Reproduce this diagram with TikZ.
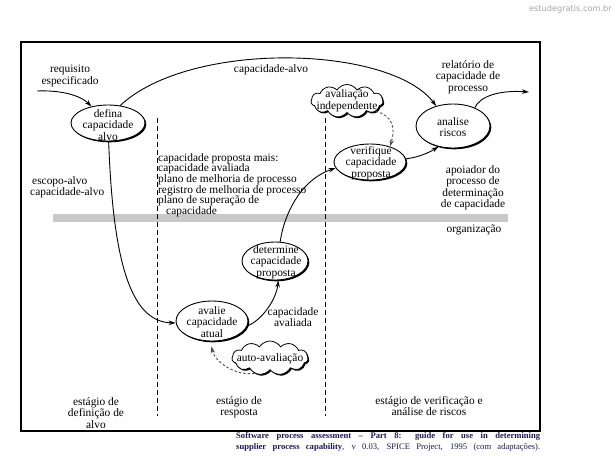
\documentclass[tikz,border=0pt]{standalone}
\usepackage{fontspec}
\setmainfont{Liberation Serif}
\newfontfamily\wmfont{DejaVu Sans}
\usetikzlibrary{shapes.geometric,shapes.symbols,shadows,arrows.meta}
\definecolor{capcol}{RGB}{25,25,85}
\definecolor{barcol}{RGB}{200,200,200}
\definecolor{wmcol}{RGB}{165,165,165}
\tikzset{
  shad/.style={drop shadow={opacity=1, shadow xshift=1.3pt, shadow yshift=-1.3pt, fill=black}},
  ellbox/.style={ellipse, draw, line width=0.9pt, fill=white, inner sep=0pt, shad},
  cldbox/.style={cloud, cloud puffs=11, cloud puff arc=115, cloud ignores aspect, draw, line width=0.8pt, fill=white, inner sep=0pt, shad},
  lbl/.style={font=\fontsize{11.4}{11.5}\selectfont, align=center, inner sep=0pt},
  arr/.style={line width=0.9pt, -{Stealth[length=7pt,width=4.5pt]}},
  darr/.style={arr, dash pattern=on 2.5pt off 2pt, draw=black!70},
  vdash/.style={line width=0.9pt, dash pattern=on 5pt off 3pt},
}
\begin{document}
\begin{tikzpicture}[x=1pt,y=-1pt]
\useasboundingbox (0,0) rectangle (615,456);
% watermark
\node[font=\wmfont\fontsize{8.2}{9}\selectfont, text=wmcol, anchor=east, inner sep=0pt] (wm) at (612,9) {estudegratis.com.br};
% frame
\draw[line width=1.1pt] (21,42) rectangle (540,431);
% gray bar
\fill[barcol] (53,214) rectangle (508,222);
% dashed stage separators
\draw[vdash] (157,118) -- (157,416);
\draw[vdash] (325,118) -- (325,416);

% shapes
\node[ellbox, minimum width=74pt, minimum height=36pt] (defina) at (108,123) {};
\node[ellbox, minimum width=72pt, minimum height=40pt] (avalie) at (212,321) {};
\node[ellbox, minimum width=66pt, minimum height=38pt] (determine) at (275,261) {};
\node[ellbox, minimum width=72pt, minimum height=36pt] (verifique) at (370,162) {};
\node[ellbox, minimum width=74pt, minimum height=44pt] (analise) at (453,126) {};
\node[cldbox, minimum width=72pt, minimum height=33pt] (indep) at (347,101) {};
\node[cldbox, minimum width=76pt, minimum height=34pt] (auto) at (270,358) {};

% texts in shapes
\node[lbl] (definat) at (108,125) {defina\\capacidade\\alvo};
\node[lbl] (avaliet) at (212,322) {avalie\\capacidade\\atual};
\node[lbl] (determinet) at (276,262) {determine\\capacidade\\proposta};
\node[lbl] (verifiquet) at (371,163) {verifique\\capacidade\\proposta};
\node[lbl] (analiset) at (453,127) {analise\\riscos};
\node[lbl] (indept) at (347,101) {avaliação\\independente};
\node[lbl] (autot) at (270,359) {auto-avaliação};

% free labels
\node[lbl] (req) at (70,76) {requisito\\especificado};
\node[lbl] (capalvo) at (271,70) {capacidade-alvo};
\node[lbl] (relat) at (468,77) {relatório de\\capacidade de\\processo};
\node[lbl] (apoiador) at (473,188) {apoiador do\\processo de\\determinação\\de capacidade};
\node[lbl] (org) at (474,230) {organização};
\node[lbl, align=left, anchor=west, font=\fontsize{11.4}{10.6}\selectfont] (lista) at (158,185) {capacidade proposta mais:\\capacidade avaliada\\plano de melhoria de processo\\registro de melhoria de processo\\plano de superação de\\\hspace*{8pt}capacidade};
\node[lbl, align=left, anchor=west, font=\fontsize{11.4}{10.2}\selectfont] (escopo) at (30,187) {\hspace*{2pt}escopo-alvo\\capacidade-alvo};
\node[lbl] (capaval) at (293,317) {capacidade\\avaliada};
\node[lbl] (st1) at (96,413) {estágio de\\definição de\\alvo};
\node[lbl] (st2) at (239,407) {estágio de\\resposta};
\node[lbl] (st3) at (429,406) {estágio de verificação e\\análise de riscos};

% caption
\node[anchor=north west, inner sep=0pt, text=capcol] (caption) at (236,432.5)
  {\parbox[t]{304pt}{\fontsize{8.6}{11}\selectfont\parfillskip=0pt\relax
   \textbf{Software process assessment – Part 8: guide for use in determining}\linebreak
   \textbf{supplier process capability}, v 0.03, SPICE Project, 1995 (com adaptações).}};

% free ends
\coordinate (reqs) at (37,91);
\coordinate (relend) at (529,92);

% connectors
\draw[arr] (reqs) .. controls (60,90) and (80,95) .. (defina.135);
\draw[arr] (defina.55) .. controls (190,40) and (390,45) .. (analise.130);
\draw[arr] (analise.40) .. controls (480,96) and (500,90) .. (relend);
\draw[arr] (defina.272) .. controls (113,260) and (130,322) .. (avalie.183);
\draw[arr] (avalie.-8) .. controls (262,320) and (276,300) .. (determine.-80);
\draw[arr] (determine.75) .. controls (284,215) and (300,180) .. (verifique.190);
\draw[arr] (verifique.5) .. controls (420,157) and (430,152) .. (analise.235);
\draw[darr] (indep.-20) .. controls (392,115) and (396,128) .. (verifique.38);
\draw[darr, shorten >=5pt] (auto.225) .. controls (235,376) and (215,362) .. (avalie.265);
\end{tikzpicture}
\end{document}
